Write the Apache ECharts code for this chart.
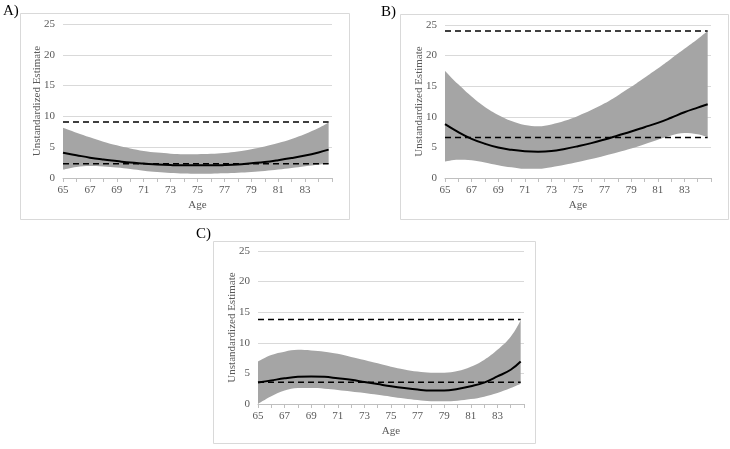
<!DOCTYPE html>
<html>
<head>
<meta charset="utf-8">
<script src="https://cdn.jsdelivr.net/npm/echarts@6/dist/echarts.min.js"></script>
<style>html,body{margin:0;padding:0;background:#fff;}#c{width:730px;height:449px;}</style>
</head>
<body>
<div id="c"></div>
<script>
const ages = [65,66,67,68,69,70,71,72,73,74,75,76,77,78,79,80,81,82,83,84,84.75];
const xTickLabels = [65,67,69,71,73,75,77,79,81,83];
const yTicks = [0,5,10,15,20,25];

const aLine  = [4.1,3.7,3.3,3.0,2.75,2.5,2.35,2.2,2.1,2.05,2.05,2.05,2.1,2.2,2.4,2.6,2.9,3.25,3.65,4.15,4.6];
const aUpper = [8.15,7.35,6.6,5.9,5.3,4.8,4.4,4.12,3.95,3.87,3.86,3.92,4.07,4.32,4.68,5.12,5.68,6.35,7.15,8.1,9.0];
const aLower = [1.36,1.8,1.95,1.88,1.7,1.45,1.18,0.97,0.83,0.74,0.7,0.71,0.76,0.85,0.98,1.15,1.36,1.62,1.92,2.15,2.3];
const aDash  = [9.1, 2.3];

const bLine  = [8.8,7.5,6.4,5.6,4.97,4.6,4.37,4.3,4.4,4.75,5.2,5.7,6.3,6.95,7.6,8.3,9.0,9.85,10.75,11.5,12.05];
const bUpper = [17.5,15.3,13.3,11.6,10.3,9.3,8.65,8.45,8.75,9.35,10.15,11.1,12.2,13.5,14.9,16.4,17.9,19.5,21.1,22.7,24.0];
const bLower = [2.7,3.0,2.9,2.55,2.1,1.75,1.5,1.5,1.75,2.15,2.6,3.1,3.65,4.2,4.8,5.5,6.25,6.95,7.35,7.15,6.7];
const bDash  = [24.0, 6.6];

const cLine  = [3.5,3.85,4.2,4.45,4.5,4.45,4.2,3.95,3.6,3.25,2.9,2.6,2.35,2.2,2.2,2.45,2.9,3.5,4.5,5.6,6.95];
const cUpper = [6.95,8.0,8.55,8.85,8.75,8.55,8.2,7.7,7.2,6.65,6.1,5.65,5.3,5.12,5.12,5.4,6.1,7.2,8.85,11.0,13.7];
const cLower = [0,1.25,2.2,2.6,2.6,2.5,2.3,2.05,1.8,1.5,1.2,0.9,0.65,0.45,0.43,0.55,0.8,1.2,1.8,2.6,3.3];
const cDash  = [13.8, 3.55];

const panels = [
  {label:'A)', line:aLine, upper:aUpper, lower:aLower, dash:aDash},
  {label:'B)', line:bLine, upper:bUpper, lower:bLower, dash:bDash},
  {label:'C)', line:cLine, upper:cUpper, lower:cLower, dash:cDash}
];

const FONT = 'Liberation Serif';
const TXT = '#595959';
const grids = [
  {left:63, top:24, width:269, height:154},
  {left:445, top:25, width:266, height:153},
  {left:258, top:251, width:266, height:153}
];
const boxes = [
  {x:20, y:13, w:329, h:206},
  {x:400, y:14, w:328, h:205},
  {x:213, y:241, w:322, h:202}
];
const labelPos = [{x:3, y:4}, {x:381, y:5}, {x:196, y:227}];

const xAxes = [], yAxes = [], series = [], graphics = [];
panels.forEach((p, i) => {
  xAxes.push({
    type:'value', gridIndex:i, min:ages[0], max:85, interval:1,
    name:'Age', nameLocation:'middle', nameGap:22, nameMoveOverlap:false,
    nameTextStyle:{fontFamily:FONT, fontSize:11, color:TXT},
    axisLine:{lineStyle:{color:'#bfbfbf'}},
    axisTick:{show:true, length:4, lineStyle:{color:'#bfbfbf'}},
    splitLine:{show:false},
    axisLabel:{fontFamily:FONT, fontSize:11, color:TXT, margin:7,
      formatter: v => xTickLabels.indexOf(v) >= 0 ? String(v) : ''}
  });
  yAxes.push({
    type:'value', gridIndex:i, min:yTicks[0], max:yTicks[yTicks.length-1], interval:5,
    name:'Unstandardized Estimate', nameLocation:'middle', nameGap:20, nameMoveOverlap:false,
    nameTextStyle:{fontFamily:FONT, fontSize:11, color:TXT},
    axisLine:{show:false}, axisTick:{show:false},
    splitLine:{lineStyle:{color:'#d9d9d9', width:1}},
    axisLabel:{fontFamily:FONT, fontSize:11, color:TXT, margin:8}
  });
  // value first, age second, so that stacking applies to the y value
  series.push({
    type:'line', xAxisIndex:i, yAxisIndex:i, stack:'band'+i, smooth:0.4,
    dimensions:['v','age'], encode:{x:1, y:0},
    symbol:'none', lineStyle:{width:0, opacity:0}, silent:true,
    data: ages.map((a, k) => [p.lower[k], a])
  });
  series.push({
    type:'line', xAxisIndex:i, yAxisIndex:i, stack:'band'+i, smooth:0.4,
    dimensions:['v','age'], encode:{x:1, y:0},
    symbol:'none', lineStyle:{width:0, opacity:0}, silent:true,
    areaStyle:{color:'#a5a5a5', opacity:1},
    data: ages.map((a, k) => [p.upper[k] - p.lower[k], a])
  });
  p.dash.forEach(d => {
    series.push({
      type:'line', xAxisIndex:i, yAxisIndex:i, symbol:'none', silent:true, z:3,
      lineStyle:{color:'#000', width:1.5, type:[6,4]},
      data:[[ages[0], d], [ages[ages.length-1], d]]
    });
  });
  series.push({
    type:'line', xAxisIndex:i, yAxisIndex:i, smooth:0.4, symbol:'none', silent:true, z:4,
    lineStyle:{color:'#000', width:2},
    data: ages.map((a, k) => [a, p.line[k]])
  });
  const b = boxes[i];
  graphics.push({type:'rect', shape:{x:b.x+0.5, y:b.y+0.5, width:b.w, height:b.h},
    style:{fill:'none', stroke:'#d9d9d9', lineWidth:1}, z:-1, silent:true});
  graphics.push({type:'text', x:labelPos[i].x, y:labelPos[i].y,
    style:{text:p.label, font:'15px "Liberation Serif"', fill:'#000'}});
});

const chart = echarts.init(document.getElementById('c'), null, {renderer:'canvas'});
chart.setOption({
  animation:false,
  backgroundColor:'#fff',
  grid: grids,
  xAxis: xAxes,
  yAxis: yAxes,
  series: series,
  graphic: graphics
});
</script>
</body>
</html>
